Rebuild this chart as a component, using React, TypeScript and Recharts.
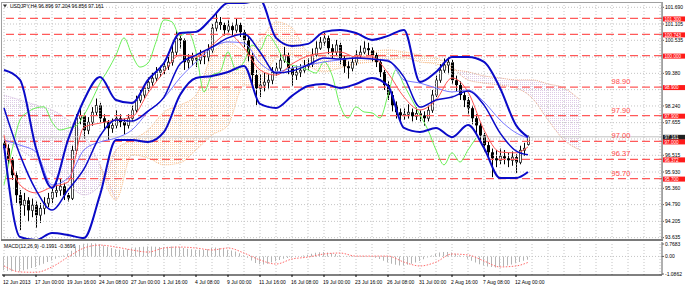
import React from "react";
import { ComposedChart, Bar, Line, Area, XAxis, YAxis, ReferenceLine } from "recharts";

const FONT = "'Liberation Sans', Arial, sans-serif";

// open, high, low, close (one candle per 8h)
const candles: [number, number, number, number][] = [
  [96.95, 97.1, 96.55, 96.76], [96.76, 96.9, 96.2, 96.34], [96.34, 96.45, 95.65, 95.82], [95.82, 95.95, 94.85, 95.12],
  [95.12, 95.3, 93.9, 94.77], [94.77, 95.2, 94.4, 94.94], [94.94, 95.05, 94.2, 94.59], [94.59, 95.0, 94.35, 94.77],
  [94.77, 94.9, 93.97, 94.42], [94.42, 94.85, 94.15, 94.66], [94.66, 95.05, 94.45, 94.84], [94.84, 95.2, 94.7, 95.01],
  [95.01, 95.4, 94.85, 95.22], [95.22, 95.55, 95.05, 95.29], [95.29, 95.7, 95.1, 95.43], [95.43, 95.55, 94.95, 95.12],
  [95.12, 95.2, 94.9, 95.01], [95.01, 96.85, 94.95, 96.69], [96.69, 97.95, 96.55, 97.81], [97.81, 98.15, 97.6, 97.91],
  [97.91, 98.0, 97.1, 97.39], [97.39, 97.85, 97.25, 97.67], [97.67, 98.2, 97.55, 98.02], [98.02, 98.5, 97.9, 98.26],
  [98.26, 98.35, 97.65, 97.81], [97.81, 97.95, 97.45, 97.67], [97.67, 97.75, 97.05, 97.46], [97.46, 97.8, 97.3, 97.56],
  [97.56, 98.1, 97.45, 97.81], [97.81, 97.95, 97.5, 97.67], [97.67, 97.8, 97.25, 97.56], [97.56, 97.95, 97.45, 97.81],
  [97.81, 98.25, 97.7, 98.09], [98.09, 98.6, 98.0, 98.44], [98.44, 98.8, 98.35, 98.62], [98.62, 99.0, 98.5, 98.86],
  [98.86, 99.25, 98.75, 99.07], [99.07, 99.4, 98.95, 99.21], [99.21, 99.6, 99.1, 99.42], [99.42, 99.65, 99.25, 99.49],
  [99.49, 99.8, 99.35, 99.63], [99.63, 99.95, 99.5, 99.77], [99.77, 100.45, 99.65, 100.12], [100.12, 100.85, 100.0, 100.61],
  [100.61, 100.75, 100.25, 100.54], [100.54, 100.6, 99.5, 99.77], [99.77, 100.05, 99.55, 99.84], [99.84, 100.1, 99.65, 99.91],
  [99.91, 100.05, 99.6, 99.84], [99.84, 100.2, 99.7, 100.02], [100.02, 100.15, 99.7, 99.95], [99.95, 100.4, 99.8, 100.19],
  [100.19, 101.1, 100.1, 100.96], [100.96, 101.45, 100.85, 101.17], [101.17, 101.35, 100.9, 101.07], [101.07, 101.15, 100.7, 100.89],
  [100.89, 101.25, 100.8, 101.03], [101.03, 101.15, 100.7, 100.89], [100.89, 101.3, 100.8, 101.07], [101.07, 101.15, 100.65, 100.82],
  [100.82, 100.9, 100.3, 100.54], [100.54, 100.65, 99.8, 100.02], [100.02, 100.1, 98.95, 99.32], [99.32, 99.5, 98.27, 98.86],
  [98.86, 99.35, 98.55, 98.97], [98.97, 99.4, 98.75, 99.07], [99.07, 99.35, 98.85, 99.14], [99.14, 99.6, 99.0, 99.42],
  [99.42, 99.75, 99.3, 99.56], [99.56, 100.05, 99.45, 99.84], [99.84, 100.3, 99.75, 100.02], [100.02, 100.1, 99.35, 99.56],
  [99.56, 99.65, 98.95, 99.32], [99.32, 99.65, 99.15, 99.42], [99.42, 99.7, 99.25, 99.49], [99.49, 99.85, 99.4, 99.63],
  [99.63, 99.9, 99.5, 99.7], [99.7, 100.25, 99.6, 100.02], [100.02, 100.5, 99.95, 100.26], [100.26, 100.65, 100.2, 100.47],
  [100.47, 100.8, 100.35, 100.61], [100.61, 100.7, 100.05, 100.26], [100.26, 100.4, 99.9, 100.12], [100.12, 100.55, 100.0, 100.37],
  [100.37, 100.45, 99.7, 99.91], [99.91, 100.0, 99.4, 99.63], [99.63, 99.8, 99.2, 99.56], [99.56, 99.95, 99.45, 99.77],
  [99.77, 100.2, 99.65, 100.02], [100.02, 100.35, 99.9, 100.12], [100.12, 100.5, 100.05, 100.26], [100.26, 100.45, 100.0, 100.19],
  [100.19, 100.3, 99.8, 100.02], [100.02, 100.1, 99.6, 99.77], [99.77, 99.85, 99.25, 99.42], [99.42, 99.5, 98.8, 98.97],
  [98.97, 99.1, 98.45, 98.62], [98.62, 98.75, 98.05, 98.26], [98.26, 98.4, 97.8, 98.02], [98.02, 98.15, 97.7, 97.91],
  [97.91, 98.15, 97.75, 97.95], [97.95, 98.3, 97.8, 98.02], [98.02, 98.15, 97.7, 97.88], [97.88, 98.2, 97.75, 97.98],
  [97.98, 98.1, 97.7, 97.91], [97.91, 98.05, 97.55, 97.81], [97.81, 98.25, 97.7, 98.09], [98.09, 98.8, 98.0, 98.62],
  [98.62, 99.3, 98.55, 99.14], [99.14, 99.7, 99.05, 99.49], [99.49, 99.9, 99.4, 99.67], [99.67, 99.95, 99.35, 99.77],
  [99.77, 99.85, 99.0, 99.14], [99.14, 99.3, 98.75, 98.97], [98.97, 99.1, 98.45, 98.62], [98.62, 98.75, 98.2, 98.44],
  [98.44, 98.55, 97.95, 98.16], [98.16, 98.25, 97.6, 97.81], [97.81, 97.95, 97.3, 97.56], [97.56, 97.65, 97.0, 97.21],
  [97.21, 97.3, 96.65, 96.87], [96.87, 97.0, 96.4, 96.62], [96.62, 96.75, 95.75, 96.41], [96.41, 96.7, 96.1, 96.34],
  [96.34, 96.75, 96.2, 96.48], [96.48, 96.7, 96.2, 96.41], [96.41, 96.6, 96.1, 96.34], [96.34, 96.65, 96.15, 96.45],
  [96.45, 96.55, 95.9, 96.27], [96.27, 96.85, 96.2, 96.69], [96.69, 96.95, 96.5, 96.76], [96.896, 97.204, 96.856, 97.161],
];

// indicator samples, one every 4 candles (last one on the last candle)
const bbUpper = [99.5, 99.15, 96.77, 95.37, 97.05, 98.45, 99.25, 98.45, 98.34, 99.15, 99.74, 100.79, 100.83, 101.32, 101.84, 101.84, 101.95,
  100.62, 100.34, 100.41, 100.83, 100.9, 100.79, 100.55, 100.69, 100.9, 99.08, 99.43, 99.95, 99.95, 99.78, 98.87, 97.57, 97.15];
const bbMiddle = [98.17, 96.53, 95.3, 94.6, 95.3, 96.04, 97.19, 97.75, 97.71, 98.06, 98.55, 99.71, 100.02, 100.3, 100.62, 100.76, 100.13,
  99.39, 99.46, 99.67, 99.92, 99.88, 99.92, 99.88, 99.81, 99.25, 98.2, 98.45, 98.55, 98.76, 98.27, 97.3, 96.67, 96.53];
const bbLower = [96.87, 93.66, 93.55, 93.8, 93.73, 93.62, 95.13, 97.05, 97.05, 96.98, 97.33, 98.62, 99.22, 99.29, 99.43, 99.64, 98.31,
  98.17, 98.59, 98.94, 99.01, 98.87, 99.01, 99.22, 98.94, 97.47, 97.33, 97.47, 97.15, 97.57, 96.77, 95.72, 95.72, 95.93];
const tenkan = [97.22, 95.48, 95.2, 95.41, 95.58, 97.5, 97.64, 97.75, 97.85, 98.69, 99.43, 100.02, 99.95, 100.37, 100.76, 100.27, 99.5,
  99.32, 99.71, 99.99, 100.09, 100.13, 99.95, 99.95, 99.39, 98.55, 98.1, 98.45, 99.22, 98.73, 97.4, 96.63, 96.6, 96.81];
const kijun = [97.05, 96.87, 96.63, 95.48, 95.72, 96.7, 96.98, 97.12, 97.4, 98.03, 98.52, 99.22, 99.78, 100.27, 100.48, 100.44, 99.74,
  99.43, 99.57, 99.67, 99.78, 99.85, 99.92, 99.88, 99.85, 99.15, 99.04, 98.87, 98.73, 98.8, 98.38, 97.75, 97.3, 97.12];

// chikou span, one sample every 2 candles
const chikou = [95.48, 96.7, 97.75, 98.03, 98.17, 98.21, 97.68, 97.4, 97.47, 97.54, 97.92, 98.45, 99.04, 99.5, 100.02, 100.62,
  100.02, 99.6, 99.74, 100.48, 101.25, 101.18, 100.69, 100.83, 100.13, 98.73, 99.32, 99.43, 100.13, 99.5, 99.78, 100.37,
  100.2, 100.72, 100.37, 99.85, 99.67, 99.6, 99.5, 99.39, 99.78, 99.32, 98.27, 97.82, 98.21, 98.03, 98.0, 97.82, 98.62,
  99.5, 98.97, 98.45, 97.92, 97.4, 96.7, 96.18, 96.6, 96.28, 96.7, 97.12];

// senkou spans (cloud), one sample every 4 candles, running 13 candles past the last one
const spanA = [97.05, 96.7, 96.35, 95.83, 95.48, 95.13, 95.48, 96.7, 97.05, 97.4, 98.03, 98.27, 98.62, 100.02, 100.48, 100.2, 100.55,
  101.18, 100.97, 100.13, 100.02, 99.99, 99.92, 100.13, 100.2, 100.13, 100.02, 99.92, 99.64, 99.15, 99.04, 98.97, 98.87, 98.52,
  97.75, 97.05, 96.7];
const spanB = [98.62, 98.45, 98.27, 98.1, 97.75, 97.22, 96.18, 94.95, 96.53, 96.42, 96.18, 96.25, 96.7, 97.22, 97.57, 98.97, 98.97,
  99.92, 100.02, 99.64, 99.43, 99.57, 99.71, 99.78, 99.85, 99.92, 99.78, 99.71, 99.5, 99.43, 99.29, 99.22, 99.15, 99.15, 99.01,
  98.87, 98.45];

const macdMain = [-0.85, -0.9, -0.92, -0.92, -0.9, -0.85, -0.8, -0.72, -0.65, -0.55, -0.45, -0.35, -0.25, -0.15, -0.05, 0.05, 0.15,
  0.35, 0.55, 0.7, 0.78, 0.8, 0.82, 0.8, 0.75, 0.68, 0.6, 0.52, 0.45, 0.42, 0.42, 0.45,
  0.5, 0.55, 0.58, 0.6, 0.62, 0.62, 0.6, 0.58, 0.58, 0.6, 0.62, 0.62, 0.58, 0.52, 0.48, 0.45, 0.42, 0.42, 0.42,
  0.45, 0.52, 0.55, 0.52, 0.48, 0.42, 0.36, 0.3, 0.2, 0.08, -0.08, -0.25, -0.4, -0.48, -0.5, -0.45, -0.38, -0.3, -0.22, -0.14,
  -0.1, -0.08, -0.05, 0.0, 0.05, 0.1, 0.16, 0.22, 0.26, 0.28, 0.25, 0.2, 0.15, 0.08, 0.02, -0.02, -0.03, -0.02, 0.0, 0.02,
  0.02, -0.02, -0.08, -0.16, -0.26, -0.36, -0.46, -0.52, -0.56, -0.56, -0.52, -0.46, -0.38, -0.28, -0.18, -0.06, 0.06, 0.16, 0.24, 0.28,
  0.28, 0.24, 0.16, 0.06, -0.04, -0.14, -0.26, -0.38, -0.48, -0.56, -0.62, -0.66, -0.68, -0.66, -0.62, -0.56, -0.5, -0.42, -0.34, -0.26, -0.2];
const macdSignal = [-0.59, -0.96, -0.98, -0.65, -0.04, 0.52, 0.7, 0.58, 0.4, 0.27, 0.52, 0.58, 0.52, 0.4, 0.52, 0.21, -0.22, -0.47,
  -0.16, -0.04, 0.15, 0.21, 0.02, 0.02, 0.02, -0.35, -0.59, -0.35, 0.15, 0.09, -0.28, -0.65, -0.59, -0.37];

const priceTicks = [101.69, 101.105, 100.535, 99.38, 98.24, 97.655, 96.515, 95.93, 95.36, 94.79, 94.205, 93.635];
const hiddenGridPrices = [99.95, 98.81, 97.085];
const macdTicks = [0.7683, 0, -1.0862];

const levelPrices = [101.3, 100.743, 100.0, 98.9, 97.9, 97.0, 96.372, 95.7];
const levelBoxText = ["101.300", "100.743", "100.000", "98.900", "97.900", "97.000", "96.372", "95.700"];
const levelNotes = ["", "", "", "98.90", "97.90", "97.00", "96.37", "95.70"];
const bidPrice = 97.161;

const timeLabels = ["12 Jun 2013", "17 Jun 00:00", "19 Jun 16:00", "24 Jun 08:00", "27 Jun 00:00", "1 Jul 16:00", "4 Jul 08:00",
  "9 Jul 00:00", "11 Jul 16:00", "16 Jul 08:00", "19 Jul 00:00", "23 Jul 16:00", "26 Jul 08:00", "31 Jul 00:00", "2 Aug 16:00",
  "7 Aug 08:00", "12 Aug 00:00"];

const LAST = candles.length - 1;
const X_DOMAIN: [number, number] = [-0.5, 164.5];

type Row = { i: number; [k: string]: any };
const rows: Row[] = [];
for (let i = 0; i <= 144; i++) rows.push({ i });
candles.forEach(([o, h, l, c], i) => Object.assign(rows[i], { o, h, l, c, range: [l, h] }));
const place = (arr: number[], key: string, step: number, cap: number) =>
  arr.forEach((v, k) => { rows[Math.min(k * step, cap)][key] = v; });
place(bbUpper, "bbU", 4, LAST);
place(bbMiddle, "bbM", 4, LAST);
place(bbLower, "bbL", 4, LAST);
place(tenkan, "ten", 4, LAST);
place(kijun, "kij", 4, LAST);
place(chikou, "chk", 2, 144);
spanA.forEach((a, k) => {
  const b = spanB[k];
  const r = rows[k * 4];
  if (k <= 7) r.cloudP1 = [a, b];
  if (k >= 6 && k <= 28) r.cloudO = [a, b];
  if (k >= 28) r.cloudP2 = [a, b];
});

const macdRows: Row[] = macdMain.map((v, i) => ({ i, hist: v }));
macdSignal.forEach((v, k) => { macdRows[Math.min(k * 4, LAST)].sig = v; });

const gridX: number[] = [];
for (let i = 0; i <= 164; i += 4) gridX.push(i);

const Candle = (props: any) => {
  const { x, y, width, height, payload } = props;
  if (!payload || payload.h == null) return null;
  const { o, h, l, c } = payload;
  const top = Math.min(y, y + height);
  const hh = Math.abs(height);
  const k = hh / (h - l);
  const yO = top + (h - o) * k;
  const yC = top + (h - c) * k;
  const cx = Math.round(x + width / 2);
  const bTop = Math.min(yO, yC);
  const bH = Math.max(1, Math.abs(yO - yC));
  const up = c >= o;
  return (
    <g>
      <line x1={cx + 0.5} x2={cx + 0.5} y1={top} y2={top + hh} stroke="#000" strokeWidth={1} />
      {up ? (
        <rect x={cx - 0.5} y={bTop} width={2} height={bH} fill="#fff" stroke="#222" strokeWidth={0.8} />
      ) : (
        <rect x={cx - 1} y={bTop} width={3} height={bH} fill="#000" />
      )}
    </g>
  );
};

const levelLabel = (box: string, note: string, dark: boolean) => (props: any) => {
  const vb = props.viewBox || {};
  const y = vb.y;
  const right = vb.x + vb.width;
  return (
    <g>
      {note ? (
        <text x={right - 41} y={y - 3} fontSize={7.5} fill="#ff4a4a" textAnchor="middle" fontFamily={FONT}>{note}</text>
      ) : null}
      <rect x={right + 1} y={y - 2} width={22} height={5} fill={dark ? "#202020" : "#ff1a1a"} />
      <text x={right + 2.5} y={y + 2.2} fontSize={4.6} fill="#fff" fontFamily={FONT}>{box}</text>
    </g>
  );
};

const TimeTick = (props: any) => {
  const { x, y, payload } = props;
  return (
    <text x={x - 1} y={y + 5} fontSize={5} fill="#000" textAnchor="start" fontFamily={FONT}>
      {timeLabels[Math.round(payload.value / 8)]}
    </text>
  );
};

const gridStroke = "#c4c4c4";

export default function App() {
  return (
    <div style={{ position: "absolute", left: 0, top: 0, width: 685, height: 287, background: "#fff", overflow: "hidden" }}>
      <div style={{ position: "absolute", left: 0, top: 0 }}>
        <ComposedChart width={685} height={241} data={rows} margin={{ top: 3, right: 0, bottom: 1, left: 2 }}>
          <defs>
            <pattern id="dotOrange" width="2" height="2" patternUnits="userSpaceOnUse">
              <rect width="1" height="1" fill="#f4a460" />
            </pattern>
            <pattern id="dotPurple" width="2" height="2" patternUnits="userSpaceOnUse">
              <rect width="1" height="1" fill="#d0b4dc" />
            </pattern>
          </defs>
          <XAxis dataKey="i" type="number" domain={X_DOMAIN} allowDataOverflow hide />
          <YAxis
            orientation="right"
            width={23}
            type="number"
            domain={[93.553, 101.84]}
            allowDataOverflow
            ticks={priceTicks}
            interval={0}
            tickFormatter={(v: number) => v.toFixed(3)}
            tick={{ fontSize: 5, fill: "#000", fontFamily: FONT }}
            tickSize={2}
            tickMargin={1}
            stroke="#606060"
          />
          {gridX.map((g) => (
            <ReferenceLine key={"gx" + g} x={g} stroke={gridStroke} strokeDasharray="1 2" />
          ))}
          {[...priceTicks, ...hiddenGridPrices].map((p) => (
            <ReferenceLine key={"gy" + p} y={p} stroke={gridStroke} strokeDasharray="1 2" />
          ))}
          <Area dataKey="cloudP1" type="monotone" connectNulls isAnimationActive={false} fill="url(#dotPurple)" fillOpacity={0.7} stroke="#d0b4dc" strokeDasharray="1 1" strokeWidth={1} />
          <Area dataKey="cloudO" type="monotone" connectNulls isAnimationActive={false} fill="url(#dotOrange)" fillOpacity={0.5} stroke="#f4a460" strokeOpacity={0.7} strokeDasharray="1 1" strokeWidth={1} />
          <Area dataKey="cloudP2" type="monotone" connectNulls isAnimationActive={false} fill="url(#dotPurple)" fillOpacity={0.7} stroke="#e8a888" strokeDasharray="1 1" strokeWidth={1} />
          <ReferenceLine y={bidPrice} stroke="#c0c0c0" label={levelLabel("97.161", "", true)} />
          <Bar dataKey="range" barSize={2} isAnimationActive={false} shape={Candle} />
          {levelPrices.map((p, k) => (
            <ReferenceLine key={"lv" + p} y={p} stroke="#ff5a5a" strokeWidth={1.3} strokeDasharray="8 4"
              label={levelLabel(levelBoxText[k], levelNotes[k], false)} />
          ))}
          <Line dataKey="chk" type="monotone" connectNulls dot={false} activeDot={false} isAnimationActive={false} stroke="#6cf05a" strokeWidth={1} />
          <Line dataKey="kij" type="monotone" connectNulls dot={false} activeDot={false} isAnimationActive={false} stroke="#7878ff" strokeWidth={1} />
          <Line dataKey="ten" type="monotone" connectNulls dot={false} activeDot={false} isAnimationActive={false} stroke="#ff5555" strokeWidth={1} />
          <Line dataKey="bbU" type="monotone" connectNulls dot={false} activeDot={false} isAnimationActive={false} stroke="#0a0ac8" strokeWidth={2} />
          <Line dataKey="bbM" type="monotone" connectNulls dot={false} activeDot={false} isAnimationActive={false} stroke="#0a0ac8" strokeWidth={1.5} />
          <Line dataKey="bbL" type="monotone" connectNulls dot={false} activeDot={false} isAnimationActive={false} stroke="#0a0ac8" strokeWidth={2} />
        </ComposedChart>
      </div>
      <div style={{ position: "absolute", left: 0, top: 241 }}>
        <ComposedChart width={685} height={46} data={macdRows} margin={{ top: 1, right: 0, bottom: 0, left: 2 }}>
          <XAxis
            dataKey="i"
            type="number"
            domain={X_DOMAIN}
            allowDataOverflow
            ticks={timeLabels.map((_, k) => k * 8)}
            interval={0}
            tick={TimeTick}
            tickSize={2}
            height={12}
            stroke="#000"
          />
          <YAxis
            orientation="right"
            width={23}
            type="number"
            domain={[-1.148, 0.892]}
            allowDataOverflow
            ticks={macdTicks}
            interval={0}
            tickFormatter={(v: number) => (v === 0 ? "0.00" : v.toFixed(4))}
            tick={{ fontSize: 5, fill: "#000", fontFamily: FONT }}
            tickSize={2}
            tickMargin={1}
            stroke="#606060"
          />
          {gridX.map((g) => (
            <ReferenceLine key={"mgx" + g} x={g} stroke={gridStroke} strokeDasharray="1 2" />
          ))}
          <ReferenceLine y={0} stroke={gridStroke} strokeDasharray="1 2" />
          <Bar dataKey="hist" barSize={1} fill="#b4b4b4" isAnimationActive={false} />
          <Line dataKey="sig" type="monotone" connectNulls dot={false} activeDot={false} isAnimationActive={false} stroke="#ff6a6a" strokeWidth={1} strokeDasharray="1.5 1.5" />
        </ComposedChart>
      </div>
      <div style={{ position: "absolute", left: 1, top: 2, width: 662, height: 238, border: "1px solid #a0a0a0", boxSizing: "border-box", pointerEvents: "none" }} />
      <div style={{ position: "absolute", left: 1, top: 239, width: 662, height: 2, background: "#7a7a7a" }} />
      <svg width={685} height={287} style={{ position: "absolute", left: 0, top: 0, pointerEvents: "none" }}>
        <polygon points="3,4.5 7,4.5 5,7.5" fill="#333" />
        <text x={10} y={8} fontSize={5} fill="#000" fontFamily={FONT}>USDJPY,H4  96.896 97.204 96.856 97.161</text>
        <text x={4} y={248} fontSize={5} fill="#000" fontFamily={FONT}>MACD(12,26,9) -0.1991 -0.3696</text>
      </svg>
    </div>
  );
}
